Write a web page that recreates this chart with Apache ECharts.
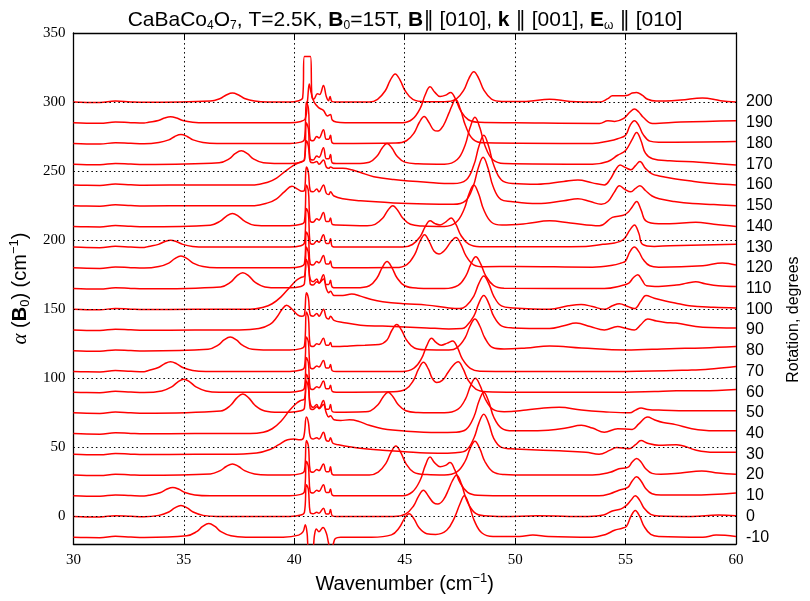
<!DOCTYPE html>
<html><head><meta charset="utf-8">
<script src="https://cdn.jsdelivr.net/npm/echarts@6/dist/echarts.min.js"></script>
<style>html,body{margin:0;padding:0;background:#fff}#c{width:810px;height:601px}</style>
</head><body><div id="c"></div>
<script>
const rotations = [-10,0,10,20,30,40,50,60,70,80,90,100,110,120,130,140,150,160,170,180,190,200];
const offsets = [-15,0,15,30,45,60,75,90,105,120,135,150,165,180,195,210,225,240,255,270,285,300];
const yGridValues = [0,50,100,150,200,250,300];
const xGridValues = [35,40,45,50,55];

const s_m10 = [[30,0],[30.6,-0.3],[31.2,-0.4],[31.9,0.6],[32.6,0.1],[33.2,-0.2],[35.13,1],[35.58,4],[35.85,7.8],[36.13,10],[36.41,7.8],[36.68,4],[37.13,1],[37.8,0],[39.5,0],[40.2,1.5],[40.4,4],[40.5,9],[40.58,3],[40.66,-8],[40.82,-8],[40.92,2],[41.0,6],[41.12,4],[41.3,7],[41.45,3],[41.55,-4],[41.62,-8],[41.74,-6],[41.86,-1],[42.1,0],[43.5,0],[44.4,1.7],[44.75,6.8],[44.98,13.3],[45.2,17],[45.42,13.3],[45.65,6.8],[46.0,2.5],[46.4,2],[46.9,5],[47.25,14],[47.5,24],[47.7,30],[47.92,23],[48.15,12],[48.5,3],[49.0,0.5],[50.2,0.5],[50.8,1.5],[51.5,0.5],[53.5,0],[54.1,2],[54.5,5],[54.85,6.5],[55.04,7.8],[55.24,15],[55.44,19.4],[55.64,15],[55.84,7.8],[56.14,2],[56.5,0.5],[58.5,0],[59.1,1.5],[60,0.5]];
const s_0 = [[30,0],[30.6,-0.3],[31.2,-0.4],[31.9,0.6],[32.6,0.1],[33.2,-0.2],[33.87,0.8],[34.32,3.2],[34.59,6.2],[34.87,8],[35.15,6.2],[35.42,3.2],[35.87,0.8],[36.5,0],[39.8,0],[40.3,1],[40.46,3],[40.55,23],[40.64,19.5],[40.72,3],[40.85,2],[41.02,3],[41.12,2.4],[41.32,6],[41.45,1.8],[41.56,1.8],[41.64,5],[41.72,0.5],[41.9,0],[44.5,0],[45.05,1.9],[45.4,7.6],[45.63,14.8],[45.85,19],[46.07,14.8],[46.3,10],[46.5,9],[46.75,12],[47.0,20],[47.15,25.5],[47.35,30],[47.57,23.4],[47.8,12],[48.15,3],[48.6,0.5],[49.5,0],[51,0.5],[53.3,0],[54.0,1],[54.4,4],[54.8,5.5],[55.04,8],[55.24,11.7],[55.44,15],[55.64,11.7],[55.84,6],[56.14,1.5],[56.5,0.3],[58,0],[59.2,1],[60,0.5]];
const s_10 = [[30,0],[30.6,-0.3],[31.2,-0.4],[31.9,0.6],[32.6,0.1],[33.2,-0.2],[33.5,0.6],[33.95,2.4],[34.22,4.7],[34.5,6],[34.78,4.7],[35.05,2.4],[35.5,0.6],[36.2,0],[39.8,0],[40.3,1],[40.46,3],[40.55,25],[40.64,21],[40.72,3],[40.85,2],[41.02,4],[41.12,3.2],[41.32,8],[41.45,2.4],[41.56,2.4],[41.64,5],[41.72,0.5],[41.9,0],[44.9,0],[45.35,2.8],[45.7,11.2],[45.93,21.8],[46.15,28],[46.35,24],[46.6,21],[46.85,22],[47.05,24],[47.27,18.7],[47.5,9.6],[47.85,2.4],[48.3,0.3],[49,0],[52,0],[53.8,0],[54.3,1.5],[54.7,4],[55.1,6],[55.3,10.7],[55.5,13.7],[55.7,10.7],[55.9,5.5],[56.2,1.4],[56.6,0.5],[58,0.5],[60,2]];
const s_20 = [[30,0],[30.6,-0.3],[31.2,-0.4],[31.9,0.6],[32.6,0.1],[33.2,-0.2],[36.2,0.8],[36.65,3.2],[36.92,6.2],[37.2,8],[37.48,6.2],[37.75,3.2],[38.2,0.8],[38.8,0],[39.8,0],[40.3,1],[40.46,3],[40.55,25],[40.64,21],[40.72,3],[40.85,2],[41.02,4],[41.12,3.2],[41.32,8],[41.45,2.4],[41.56,2.4],[41.64,6],[41.72,0.5],[41.9,0],[43.4,0],[43.8,2.1],[44.15,8.4],[44.38,16.4],[44.6,21],[44.82,16.4],[45.05,8.4],[45.4,2.1],[46,0.3],[46.8,0],[47.38,2.5],[47.73,9.8],[47.96,19.1],[48.18,24.5],[48.4,19.1],[48.63,9.8],[48.98,2.5],[49.5,0.3],[50,0],[53.5,0],[54.3,2],[54.7,4.5],[55.1,5.5],[55.3,9.4],[55.5,12],[55.7,9.4],[55.9,4.8],[56.2,1.2],[56.6,0.5],[57.5,1.5],[58.45,3],[59.2,1.5],[60,0.5]];
const s_30 = [[30,0],[30.6,-0.3],[31.2,-0.4],[31.9,0.6],[32.6,0.1],[33.2,-0.2],[35.5,0],[37,0],[38.3,1],[38.9,3.5],[39.3,7],[39.7,10.5],[40.0,11],[40.25,10.5],[40.42,12],[40.55,27],[40.64,23],[40.72,13],[40.85,11],[41.02,12],[41.12,11],[41.32,16],[41.45,10],[41.56,9.5],[41.64,12],[41.75,8],[42.0,7],[42.5,5.5],[43.2,4],[44,3],[45,1.8],[46.5,0.8],[47.3,1.2],[47.78,2.9],[48.13,11.6],[48.36,22.6],[48.58,29],[48.8,22.6],[49.03,11.6],[49.38,5],[49.8,4],[50.5,3.5],[52,2.5],[53.2,1.5],[53.8,0],[54.3,3],[54.6,5],[55.15,4],[55.45,7],[55.7,10],[56.0,8],[56.5,6.5],[57.3,7],[58.2,3],[59,1.5],[60,1.5]];
const s_40 = [[30,0],[30.6,-0.3],[31.2,-0.4],[31.9,0.6],[32.6,0.1],[33.2,-0.2],[35.5,0],[38,0],[38.6,1],[39.0,3.5],[39.4,9],[39.8,17],[40.1,22],[40.3,24],[40.46,25],[40.55,38],[40.64,33],[40.72,22],[40.85,19],[41.02,21],[41.12,18],[41.32,21],[41.45,15],[41.56,12],[41.64,13],[41.8,10],[42.1,9.5],[42.5,10],[42.9,9],[43.4,6],[44,3.5],[45,1.8],[46.5,0.8],[47.3,1],[47.78,3],[48.13,12],[48.36,23.4],[48.58,30],[48.8,23.4],[49.03,12],[49.38,4],[49.9,2],[50.5,2],[51.5,2.5],[52.3,4],[53,6],[53.5,4],[54.04,1],[54.64,3.5],[55.3,3],[55.6,7],[56.0,12],[56.3,10],[56.7,8],[57.27,6.5],[58,3.5],[59,2],[60,2]];
const s_50 = [[30,0],[30.6,-0.3],[31.2,-0.4],[31.9,0.6],[32.6,0.1],[33.2,-0.2],[36.67,1.4],[37.12,5.5],[37.39,10.7],[37.67,13.7],[37.95,10.7],[38.22,5.5],[38.67,1.4],[39.3,0.5],[39.8,0.5],[40.3,1.5],[40.46,3.5],[40.55,28],[40.64,24],[40.72,3.5],[40.85,2.5],[41.02,4.5],[41.12,3.6],[41.32,9],[41.45,2.7],[41.56,2.7],[41.64,6],[41.72,1],[41.9,0.5],[43.2,0.8],[43.45,1.5],[43.8,6],[44.03,11.7],[44.25,15],[44.47,11.7],[44.7,6],[45.05,1.5],[45.6,0.3],[46.8,0],[47.4,2.5],[47.75,10],[47.98,19.5],[48.2,25],[48.42,19.5],[48.65,10],[49.0,2.5],[49.5,0.8],[50.5,2],[51.3,3.5],[52,4],[53,2],[54,0.8],[55.2,0],[55.45,2],[55.7,3.5],[56.0,2.5],[56.5,2],[58,1.5],[60,1.5]];
const s_60 = [[30,0],[30.6,-0.3],[31.2,-0.4],[31.9,0.6],[32.6,0.1],[33.2,-0.2],[34.0,0.9],[34.45,3.8],[34.72,7.3],[35.0,9.4],[35.28,7.3],[35.55,3.8],[36.0,0.9],[36.6,0],[39.8,0],[40.3,1],[40.46,3],[40.55,25],[40.64,21],[40.72,3],[40.85,2],[41.02,4],[41.12,3.2],[41.32,8],[41.45,2.4],[41.56,2.4],[41.64,5],[41.72,0.5],[41.9,0],[44.5,0.3],[45.05,2.2],[45.4,8.6],[45.63,16.8],[45.85,21.6],[46.07,16.8],[46.25,10],[46.45,7],[46.7,8.5],[46.95,14],[47.2,19.5],[47.42,22],[47.64,17],[47.87,8.8],[48.22,2.2],[48.7,0.3],[50,0],[55,0],[56.3,0.5],[57.3,1],[58.5,1],[60,2]];
const s_70 = [[30,0],[30.6,-0.3],[31.2,-0.4],[31.9,0.6],[32.6,0.1],[33.2,-0.2],[33.4,0.7],[33.85,2.8],[34.12,5.5],[34.4,7],[34.68,5.5],[34.95,2.8],[35.4,0.7],[36.0,0],[39.8,0],[40.3,1],[40.46,3],[40.55,25],[40.64,21],[40.72,3],[40.85,2],[41.02,4],[41.12,3.2],[41.32,8],[41.45,2.4],[41.56,2.4],[41.64,5],[41.72,0.5],[41.9,0],[44.9,0],[45.42,2.4],[45.77,9.6],[46.0,18.7],[46.22,24],[46.42,21],[46.65,19],[46.93,20.5],[47.17,22],[47.39,17.2],[47.62,8.8],[47.97,2.2],[48.4,0.2],[50,0],[55,0],[58,1],[59,2],[60,3.5]];
const s_80 = [[30,0],[30.6,-0.3],[31.2,-0.4],[31.9,0.6],[32.6,0.1],[33.2,-0.2],[36.1,1],[36.55,4],[36.82,7.8],[37.1,10],[37.38,7.8],[37.65,4],[38.1,1],[38.8,0.5],[39.8,0.5],[40.3,1.5],[40.46,3.5],[40.55,28],[40.64,24],[40.72,4],[40.85,3],[41.02,5],[41.12,4.5],[41.32,9],[41.45,4],[41.56,4],[41.64,6],[41.72,3],[41.9,3],[42.5,3.5],[43.2,4],[43.84,4.5],[44.19,7.6],[44.42,14.8],[44.64,19],[44.86,14.8],[45.09,7.6],[45.44,2],[46,0.7],[47,0.5],[47.38,2.3],[47.73,9.2],[47.96,17.9],[48.18,23],[48.4,17.9],[48.63,9.2],[48.98,2.3],[49.5,1.2],[50.5,2],[51.56,3.5],[53,2],[55,0.5],[57,1.5],[58.5,2],[60,3]];
const s_90 = [[30,0],[30.6,-0.3],[31.2,-0.4],[31.9,0.6],[32.6,0.1],[33.2,-0.2],[35.5,0],[37.5,0],[38.4,1],[38.9,4],[39.2,9],[39.45,15],[39.65,18],[39.9,15],[40.15,11],[40.35,10],[40.46,11],[40.55,27],[40.64,23],[40.72,11],[40.85,10],[41.02,12],[41.12,10],[41.32,15],[41.45,9],[41.56,8],[41.64,10],[41.8,7],[42.2,5.5],[43,3.5],[44,2.8],[45,2.2],[46,1.5],[47,0.8],[47.6,1],[47.78,2.5],[48.13,10],[48.36,19.5],[48.58,25],[48.8,19.5],[49.03,10],[49.38,3],[49.9,1.5],[51.56,1],[52.2,3],[52.76,5],[53.4,2.5],[54.04,0],[54.64,2.5],[55.0,1.2],[55.4,0],[55.7,4],[56.0,8],[56.4,6.5],[56.8,5.5],[57.27,5],[58.5,2],[60,1.5]];
const s_100 = [[30,0],[30.6,-0.3],[31.2,-0.4],[31.9,0.6],[32.6,0.1],[33.2,-0.2],[35.5,0],[38,0],[38.6,1.5],[39.0,4],[39.4,9],[39.8,16],[40.1,21],[40.3,23],[40.46,24],[40.55,36],[40.64,31],[40.72,22],[40.85,20],[41.02,22],[41.12,19],[41.32,22],[41.45,15],[41.56,12],[41.64,13],[41.8,10],[42.2,10],[42.6,11],[43.0,9.5],[43.5,7],[44,5.5],[45,4],[46,3],[47,1],[47.5,0.5],[47.78,2.4],[48.13,9.6],[48.36,18.7],[48.58,24],[48.8,18.7],[49.03,9.6],[49.38,2.4],[49.9,1],[51.56,0],[52.4,2.5],[52.99,3.5],[53.5,2],[54.04,0],[54.4,2.5],[54.72,4],[55.1,2],[55.4,0.5],[55.7,6],[55.92,10],[56.3,8],[56.8,6],[57.4,4],[57.88,2.5],[59,1.5],[60,1]];
const s_110 = [[30,0],[30.6,-0.3],[31.2,-0.4],[31.9,0.6],[32.6,0.1],[33.2,-0.2],[36.67,1.2],[37.12,4.6],[37.39,9],[37.67,11.5],[37.95,9],[38.22,4.6],[38.67,1.2],[39.3,0.5],[39.8,0.5],[40.3,1.5],[40.46,3.5],[40.55,30],[40.64,25.5],[40.72,3.5],[40.85,2.5],[41.02,5],[41.12,4],[41.32,10],[41.45,3],[41.56,3],[41.64,6],[41.72,1],[41.9,0.5],[42.8,0.5],[43.4,2],[43.75,7.8],[43.98,15.2],[44.2,19.5],[44.42,15.2],[44.65,7.8],[45.0,2],[45.6,0.3],[46.8,0],[47.42,2.3],[47.77,9.2],[48.0,17.9],[48.22,23],[48.44,17.9],[48.67,9.2],[49.02,2.3],[49.5,0.3],[54.04,0],[54.8,2],[55.15,4],[55.35,7.8],[55.55,10],[55.75,6],[55.95,2],[56.5,1.5],[57.3,2.5],[57.8,4],[58.18,5],[58.6,3.5],[59.2,2],[60,1.5]];
const s_120 = [[30,0],[30.6,-0.3],[31.2,-0.4],[31.9,0.6],[32.6,0.1],[33.2,-0.2],[33.87,0.9],[34.32,3.4],[34.59,6.7],[34.87,8.6],[35.15,6.7],[35.42,3.4],[35.87,0.9],[36.5,0],[39.8,0],[40.3,1],[40.46,3],[40.55,26],[40.64,22],[40.72,3],[40.85,2],[41.02,4.5],[41.12,3.6],[41.32,9],[41.45,2.7],[41.56,2.7],[41.64,5],[41.72,0.5],[41.9,0],[44.6,0.2],[45.1,2.4],[45.45,9.6],[45.68,18.7],[45.9,24],[46.12,18.7],[46.33,12],[46.55,10],[46.8,12.5],[47.1,19],[47.32,22],[47.54,17.2],[47.77,8.8],[48.12,2.2],[48.6,0.8],[50,1],[53.5,0.5],[54.4,1.8],[54.8,3.5],[55.0,5],[55.2,11.7],[55.4,15],[55.6,11.7],[55.8,6],[56.1,1.5],[56.5,0.5],[58.5,1.5],[59.38,3.5],[60,2]];
const s_130 = [[30,0],[30.6,-0.3],[31.2,-0.4],[31.9,0.6],[32.6,0.1],[33.2,-0.2],[33.4,0.5],[33.85,2],[34.12,3.9],[34.4,5],[34.68,3.9],[34.95,2],[35.4,0.5],[36,0],[39.8,0],[40.3,1],[40.46,3],[40.55,28],[40.64,24],[40.72,3],[40.85,2],[41.02,4.5],[41.12,3.6],[41.32,9],[41.45,2.7],[41.56,2.7],[41.64,6],[41.72,0.5],[41.9,0],[44.9,0],[45.35,1.9],[45.7,7.6],[45.93,14.8],[46.15,19],[46.37,17],[46.6,16],[46.88,18.5],[47.1,21],[47.32,16.4],[47.55,8.4],[47.9,2.1],[48.4,0.3],[50,0.2],[53.2,0.5],[53.97,2],[54.5,3],[54.9,5.5],[55.2,12.5],[55.4,16],[55.6,10],[55.77,2],[56.3,0.5],[57,1],[60,2]];
const s_140 = [[30,0],[30.6,-0.3],[31.2,-0.4],[31.9,0.6],[32.6,0.1],[33.2,-0.2],[36.2,0.9],[36.65,3.8],[36.92,7.3],[37.2,9.4],[37.48,7.3],[37.75,3.8],[38.2,0.9],[38.9,0.5],[39.8,0.5],[40.3,1.5],[40.46,3.5],[40.55,30],[40.64,25.5],[40.72,4],[40.85,3],[41.02,5.5],[41.12,4.5],[41.32,10],[41.45,3.5],[41.56,3.5],[41.64,6],[41.72,1.5],[41.9,1],[43.3,0.5],[43.66,1.5],[44.01,6],[44.24,11.7],[44.46,15],[44.68,11.7],[44.91,6],[45.26,1.5],[45.8,0.3],[46.8,0],[47.33,3],[47.68,12],[47.91,23.4],[48.13,30],[48.35,23.4],[48.58,12],[48.93,3],[49.4,1],[50.5,2],[51.56,4],[52.5,2.5],[53.82,0.5],[54.4,6.5],[54.9,8],[55.1,10],[55.3,14],[55.5,18],[55.7,12],[55.92,4],[56.5,2],[57,2],[58.18,3],[59,1.5],[60,0]];
const s_150 = [[30,0],[30.6,-0.3],[31.2,-0.4],[31.9,0.6],[32.6,0.1],[33.2,-0.2],[35.5,0],[38.2,0],[38.8,2],[39.2,5],[39.55,10],[39.9,14],[40.15,12],[40.35,10.5],[40.46,11],[40.55,28],[40.64,24],[40.72,11],[40.85,10],[41.02,12],[41.12,10],[41.32,15],[41.45,9],[41.56,8],[41.64,10],[41.8,7],[42.2,5],[43,3.5],[44.5,2],[46,1.2],[47.2,1],[47.75,3.5],[48.1,14],[48.33,27.3],[48.55,35],[48.77,27.3],[49.0,14],[49.35,4.5],[49.8,3],[51,1.5],[52.2,3.5],[52.84,5],[53.4,3],[53.9,1],[54.2,3],[54.5,10],[54.72,14.5],[54.95,12],[55.24,10],[55.45,12.5],[55.65,14.5],[55.9,11],[56.2,7],[56.52,5],[57.2,3],[58.03,1.5],[59,0.8],[60,0]];
const s_160 = [[30,0],[30.6,-0.3],[31.2,-0.4],[31.9,0.6],[32.6,0.1],[33.2,-0.2],[35.5,0],[38.2,0],[38.8,2],[39.2,5],[39.6,10],[39.95,14],[40.2,16],[40.35,17],[40.46,18],[40.55,32],[40.64,28],[40.72,17],[40.85,16],[41.02,17],[41.12,15],[41.32,18],[41.45,13],[41.56,12],[41.64,13],[41.8,12],[42.2,12],[42.6,11],[43,9],[43.6,6],[44.5,4],[46,2],[47.2,1],[47.78,3.6],[48.13,14.4],[48.36,28],[48.58,36],[48.8,28],[49.03,14.4],[49.38,3.6],[49.9,1],[51,0.5],[52.2,2.5],[52.84,3.5],[53.5,1.5],[54.04,0],[54.3,4],[54.55,11],[54.75,14.5],[55.0,12.5],[55.24,11],[55.45,14],[55.65,17],[55.9,12],[56.2,8],[56.52,6.5],[57.2,4.5],[57.88,3],[59,1],[60,0]];
const s_170 = [[30,0],[30.6,-0.3],[31.2,-0.4],[31.9,0.6],[32.6,0.1],[33.2,-0.2],[36.6,1],[37.05,3.9],[37.32,7.6],[37.6,9.7],[37.88,7.6],[38.15,3.9],[38.6,1],[39.3,0.5],[39.8,0.5],[40.3,1.5],[40.46,3.5],[40.55,30],[40.64,25.5],[40.72,4],[40.85,3],[41.02,6],[41.12,5],[41.32,12],[41.45,4],[41.56,4],[41.64,7],[41.72,1],[41.9,0.5],[42.8,0.5],[43.4,1.5],[43.75,6],[43.98,11.7],[44.2,15],[44.42,11.7],[44.65,6],[45.0,1.5],[45.6,0.3],[46.8,0],[47.38,3.4],[47.73,13.6],[47.96,26.5],[48.18,34],[48.4,26.5],[48.63,13.6],[48.98,3.4],[49.5,0.5],[53.5,0],[54.2,2],[54.64,6.5],[55.0,10],[55.3,18],[55.5,23],[55.7,17],[55.9,8],[56.22,4],[57,2.5],[58.33,1.5],[60,-0.5]];
const s_180 = [[30,0],[30.6,-0.3],[31.2,-0.4],[31.9,0.6],[32.6,0.1],[33.2,-0.2],[33.87,0.7],[34.32,2.6],[34.59,5.1],[34.87,6.5],[35.15,5.1],[35.42,2.6],[35.87,0.7],[36.5,0],[39.8,0],[40.3,1],[40.46,3],[40.55,30],[40.64,25.5],[40.72,3],[40.85,2],[41.02,5],[41.12,4],[41.32,10],[41.45,3],[41.56,3],[41.64,6],[41.72,0.5],[41.9,0],[44.6,0.3],[45.08,2],[45.43,7.8],[45.66,15.2],[45.88,19.5],[46.1,15.2],[46.3,10],[46.5,9],[46.75,13],[47.0,22],[47.13,27],[47.3,32],[47.52,25],[47.75,13],[48.1,3],[48.6,0.5],[53.5,0],[54.3,2],[54.64,3.5],[55.0,6],[55.2,13],[55.4,16.5],[55.6,13],[55.8,6.4],[56.1,1.7],[56.5,1],[60,1.5]];
const s_190 = [[30,0],[30.6,-0.3],[31.2,-0.4],[31.9,0.6],[32.6,0.1],[33.2,-0.2],[33.4,0.4],[33.85,1.7],[34.12,3.4],[34.4,4.3],[34.68,3.4],[34.95,1.7],[35.4,0.4],[36,0],[39.8,0],[40.3,1],[40.5,3],[40.6,16],[40.68,28],[40.76,22],[40.9,15],[41.1,11],[41.32,9],[41.5,5],[41.64,6],[41.72,2],[41.9,0.5],[42.3,0],[44.9,0],[45.35,2.6],[45.7,10.4],[45.93,20.3],[46.15,26],[46.37,22],[46.6,19],[46.86,20],[47.08,22],[47.3,17.2],[47.53,8.8],[47.88,2.2],[48.4,0.3],[50,0],[53.82,-0.5],[54.2,1.5],[54.5,1],[54.9,3],[55.2,7.8],[55.4,10],[55.6,7.8],[55.8,4],[56.22,-0.5],[57.5,0.5],[60,1.5]];
const s_200 = [[30,0],[30.6,-0.3],[31.2,-0.4],[31.9,0.7],[32.6,0.1],[33.2,-0.2],[36.2,0.7],[36.65,2.6],[36.92,5.1],[37.2,6.5],[37.48,5.1],[37.75,2.6],[38.2,0.7],[38.8,0],[39.8,0],[40.2,1],[40.38,3],[40.46,33],[40.73,33],[40.8,4],[40.88,2],[41.05,6],[41.15,5.5],[41.32,12],[41.45,4],[41.55,1],[41.62,4],[41.7,0.5],[41.9,0],[43.4,0],[43.77,2],[44.12,8.2],[44.35,15.9],[44.57,20.4],[44.79,15.9],[45.02,8.2],[45.37,2],[45.9,0.3],[46.8,0.3],[47.33,2.2],[47.68,8.8],[47.91,17.2],[48.13,22],[48.35,17.2],[48.58,8.8],[48.93,2.2],[49.4,0.5],[50.5,0.5],[51.56,2],[52.5,0.5],[53.82,0],[54.2,2.5],[54.4,4.5],[54.8,4.5],[55.1,5],[55.3,6.5],[55.5,7],[55.75,5],[56.0,2],[56.38,0.7],[57.5,1.5],[58.48,3],[59.3,1],[60,0]];

const spectra = [s_m10,s_0,s_10,s_20,s_30,s_40,s_50,s_60,s_70,s_80,s_90,s_100,s_110,s_120,s_130,s_140,s_150,s_160,s_170,s_180,s_190,s_200];

const chart = echarts.init(document.getElementById('c'), null, {renderer:'canvas'});
const serif = '"Liberation Serif","DejaVu Serif",serif';
const sans = '"Liberation Sans","DejaVu Sans",Arial,sans-serif';

const series = spectra.map((s, i) => ({
  type: 'line',
  name: String(rotations[i]),
  data: s.map(p => [p[0], p[1] + offsets[i]]),
  showSymbol: false,
  smooth: 0.4,
  clip: true,
  z: 3,
  lineStyle: {color: '#ff0000', width: 1.5},
  silent: true
}));
series.push({
  type: 'line', data: [], z: 1, silent: true,
  markLine: {
    silent: true, symbol: ['none','none'], label: {show: false},
    lineStyle: {type: [1.5, 3], color: '#000', width: 1},
    data: yGridValues.map(v => ({yAxis: v})).concat(xGridValues.map(v => ({xAxis: v})))
  }
});

chart.setOption({
  animation: false,
  backgroundColor: '#fff',
  title: {
    text: 'CaBaCo{s|4}O{s|7}, T=2.5K, {b|B}{s|0}=15T, {b|B}∥ [010], {b|k} ∥ [001], {b|E}{s|ω} ∥ [010]',
    left: 'center', top: 3,
    textStyle: {
      fontFamily: sans, fontSize: 21, fontWeight: 'normal', color: '#000', lineHeight: 24,
      rich: {
        s: {fontSize: 12, verticalAlign: 'bottom', lineHeight: 13, fontFamily: sans},
        b: {fontWeight: 'bold', fontSize: 21, fontFamily: sans, lineHeight: 24}
      }
    }
  },
  grid: {left: 72, right: 73, top: 33, bottom: 54},
  xAxis: [{
    type: 'value', min: 30, max: 60, interval: 5,
    name: 'Wavenumber (cm{sup|−1})', nameLocation: 'middle', nameGap: 24,
    nameTextStyle: {fontFamily: sans, fontSize: 20, color: '#000', lineHeight: 24,
      rich: {sup: {fontSize: 13, verticalAlign: 'top', lineHeight: 14, fontFamily: sans}}},
    axisLine: {onZero: false, lineStyle: {color: '#000', width: 1.3}},
    axisTick: {inside: true, length: 6, lineStyle: {color: '#000'}},
    axisLabel: {fontFamily: serif, fontSize: 15, color: '#000', margin: 8},
    splitLine: {show: false}
  }, {
    type: 'value', min: 30, max: 60, interval: 5, position: 'top',
    axisLine: {onZero: false, lineStyle: {color: '#000', width: 1.3}},
    axisTick: {inside: true, length: 6, lineStyle: {color: '#000'}},
    axisLabel: {show: false}, splitLine: {show: false}
  }],
  yAxis: [{
    type: 'value', min: -20, max: 350, interval: 10,
    name: '{a|α} ({b|B}{s|0}) (cm{sup|−1})', nameLocation: 'middle', nameGap: 38, nameRotate: 90,
    nameTextStyle: {fontFamily: sans, fontSize: 20, color: '#000', lineHeight: 24,
      rich: {
        a: {fontFamily: serif, fontStyle: 'italic', fontSize: 21, lineHeight: 24},
        b: {fontWeight: 'bold', fontSize: 20, fontFamily: sans, lineHeight: 24},
        s: {fontSize: 13, verticalAlign: 'bottom', lineHeight: 14, fontFamily: sans},
        sup: {fontSize: 13, verticalAlign: 'top', lineHeight: 14, fontFamily: sans}
      }},
    axisLine: {onZero: false, lineStyle: {color: '#000', width: 1.3}},
    axisTick: {show: false},
    axisLabel: {fontFamily: serif, fontSize: 15, color: '#000', margin: 8,
      formatter: v => (v % 50 === 0 ? String(v) : '')},
    splitLine: {show: false}
  }, {
    type: 'value', min: -20, max: 350, interval: 5, position: 'right',
    name: 'Rotation, degrees', nameLocation: 'middle', nameGap: 50, nameRotate: 90,
    nameTextStyle: {fontFamily: sans, fontSize: 16, color: '#000', padding: [0, 62, 0, 0]},
    axisLine: {show: true, onZero: false, lineStyle: {color: '#000', width: 1.3}},
    axisTick: {show: false},
    axisLabel: {fontFamily: sans, fontSize: 16, color: '#000', margin: 10,
      formatter: v => {
        const idx = offsets.indexOf(v);
        return idx >= 0 ? String(rotations[idx]) : '';
      }},
    splitLine: {show: false}
  }],
  series: series
});
</script>
</body></html>
